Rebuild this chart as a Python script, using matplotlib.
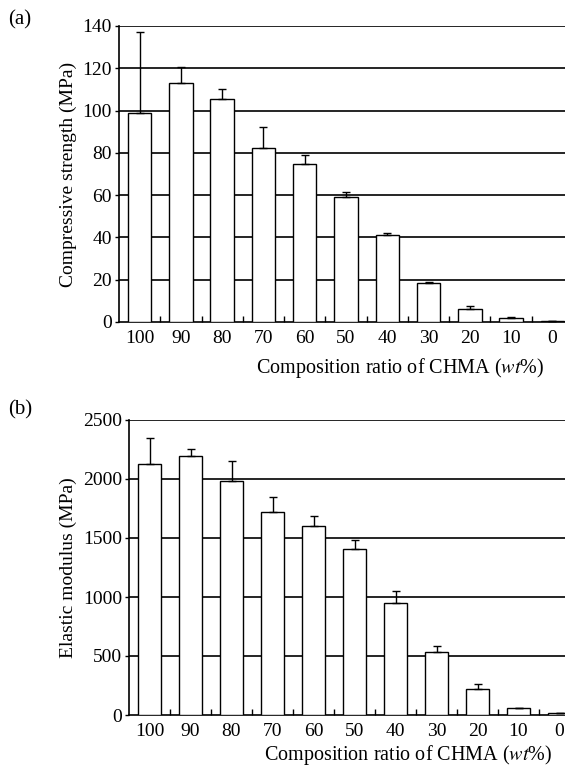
import numpy as np
import matplotlib
matplotlib.use("Agg")
import matplotlib.pyplot as plt

plt.rcParams['font.family'] = ['Liberation Serif', 'DejaVu Serif']
plt.rcParams['mathtext.fontset'] = 'stix'

# datos
ratios = ['100', '90', '80', '70', '60', '50', '40', '30', '20', '10', '0']
fuerza = [99, 113, 105.5, 82.5, 74.5, 59, 41, 18.5, 6, 2, 0.4]
fuerza_err = [38, 7.5, 4.5, 9.5, 4.5, 2.5, 1.2, 0.6, 1.7, 0.6, 0.2]
modulo = [2127, 2195, 1983, 1720, 1600, 1410, 945, 534, 222, 59, 14]
modulo_err = [220, 58, 168, 127, 90, 70, 108, 50, 42, 3, 2]

W, H = 565, 769
fig = plt.figure(figsize=(W / 100, H / 100), dpi=100)


def panel(rect, vals, errs, ymax, ystep, ylabel, letter, letter_y, xlab_y):
    ax = fig.add_axes(rect)
    x = np.arange(len(ratios))
    ax.bar(x, vals, width=0.57, color='white', edgecolor='black',
           linewidth=1.0, zorder=3,
           yerr=[np.zeros(len(errs)), errs],
           error_kw=dict(ecolor='black', elinewidth=1.0, capsize=2.7,
                         capthick=1.0, zorder=4))
    ax.set_xlim(-0.5, 10.5)
    ax.set_ylim(0, ymax)
    ax.set_yticks(np.arange(0, ymax + 1, ystep))
    ax.set_xticks(x)
    ax.set_xticklabels(ratios)
    ax.set_xticks(np.arange(0.5, 10, 1), minor=True)
    ax.tick_params(axis='x', which='major', length=0, labelsize=14, pad=6)
    ax.tick_params(axis='x', which='minor', direction='in', length=4, width=1)
    ax.tick_params(axis='y', length=3, width=1, labelsize=14, pad=2)
    for yv in np.arange(ystep, ymax + 1, ystep):
        ax.axhline(yv, color='black', lw=1.2, zorder=1)
    for s in ['top', 'right']:
        ax.spines[s].set_visible(False)
    ax.spines['left'].set_linewidth(1.2)
    ax.spines['bottom'].set_linewidth(1.2)
    ax.set_ylabel(ylabel, fontsize=14, labelpad=4)
    ax.set_xlabel('Composition ratio of CHMA ($\\mathit{wt}$%)', fontsize=14.5)
    ax.xaxis.set_label_coords(0.62, xlab_y)
    fig.text(8 / W, 1 - letter_y / H, letter, fontsize=15, va='center')
    return ax


panel([119 / W, 1 - 322 / H, 454 / W, 296 / H], fuerza, fuerza_err, 140, 20,
      'Compressive strength (MPa)', '(a)', 20, -0.115)
panel([129 / W, 1 - 715 / H, 451 / W, 295 / H], modulo, modulo_err, 2500, 500,
      'Elastic modulus (MPa)', '(b)', 410, -0.095)

fig.savefig('out.png', dpi=100)
